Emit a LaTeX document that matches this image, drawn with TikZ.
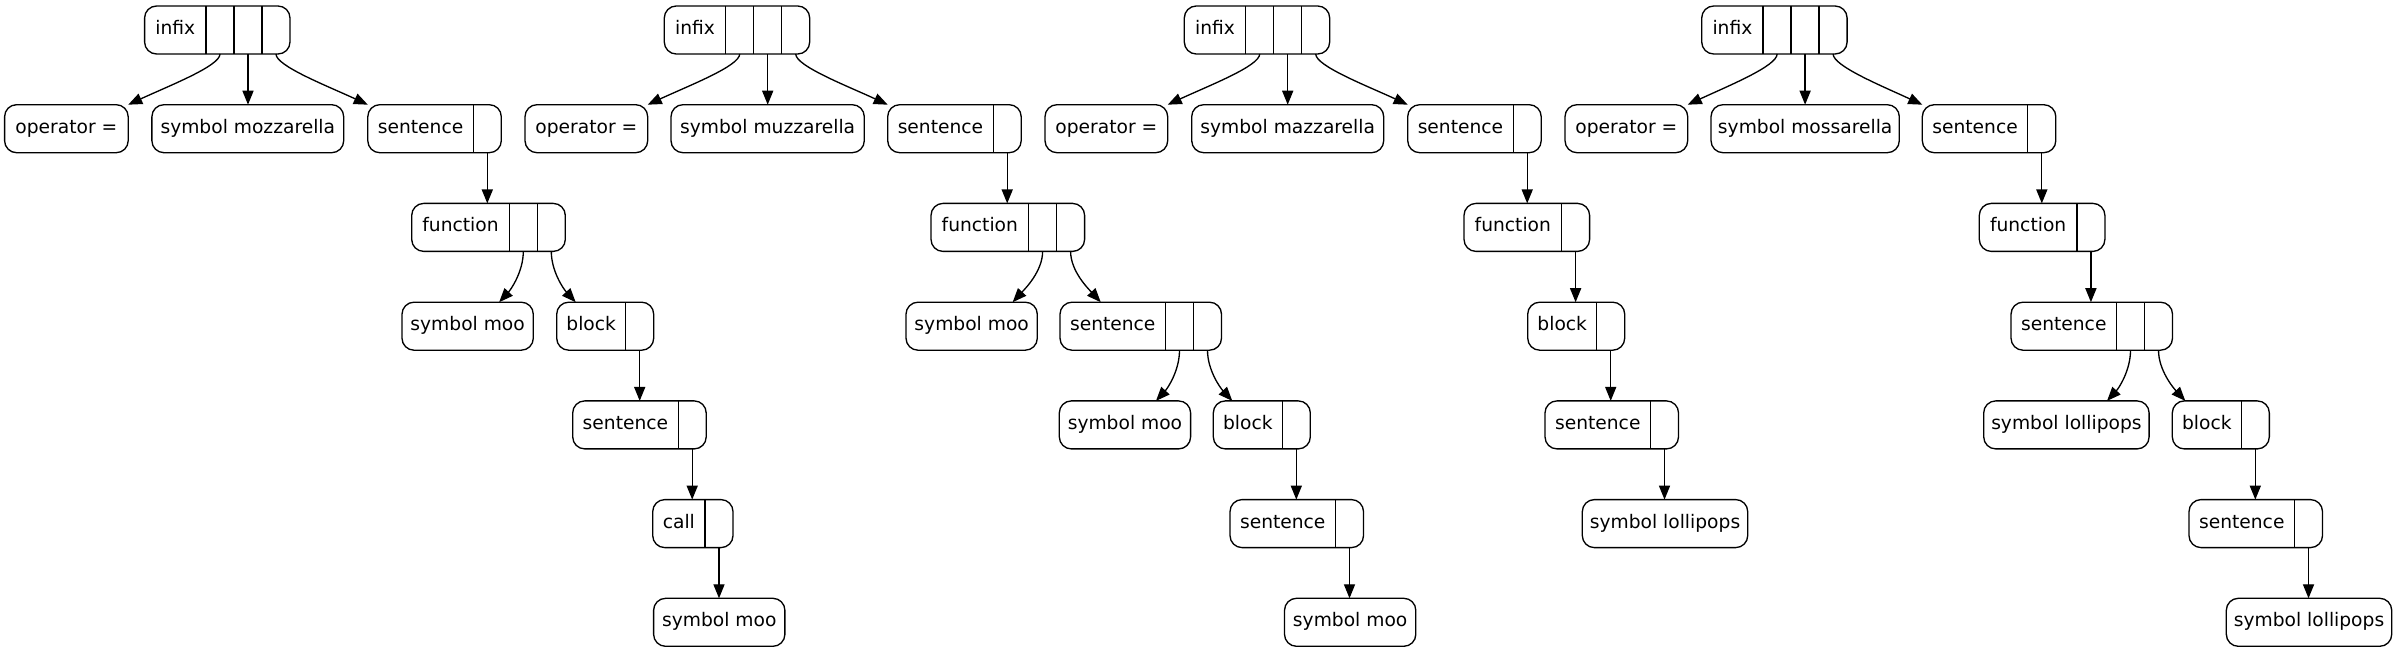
\documentclass[tikz,border=0pt]{standalone}
\usepackage{fontspec}
\setmainfont{DejaVu Sans}
\usetikzlibrary{arrows.meta,calc}

\tikzset{
  rec/.style={draw, line width=1pt, rounded corners=9pt, minimum height=36pt,
    inner sep=0pt, outer sep=0pt, anchor=north west},
  lbl/.style={inner sep=0pt, font=\fontsize{14}{16}\selectfont,
    text height=10.4pt, text depth=3.8pt},
  divline/.style={line width=1pt},
  edge/.style={line width=1pt, -{Triangle[length=10.5pt,width=8.3pt]}},
}

% plain rounded node: name, left x, top y, width (px), text
\newcommand\plainnode[5]{%
  \node[rec, lbl, minimum width=#4*0.75pt] (#1) at (#2,#3) {#5};
}
% record node: name, left x, top y, text cell width (px), number of empty cells, text
\newcommand\recnode[6]{%
  \pgfmathsetmacro\recw{#4+28*#5}%
  \node[rec, minimum width=\recw*0.75pt] (#1) at (#2,#3) {};
  \node[lbl] (#1-t) at ($(#1.north west)+(#4/2,24)$) {#6};
  \foreach \k in {1,...,#5}{
    \draw[divline] ($(#1.north west)+(#4+28*\k-28,0)$) -- ($(#1.south west)+(#4+28*\k-28,0)$);
    \coordinate (#1-p\k) at ($(#1.south west)+(#4+28*\k-14,0)$);
  }
}
\newcommand\edgeIL[2]{\draw[edge] (#1) .. controls +(0,12) and +(41,-19) .. (#2);}
\newcommand\edgeIR[2]{\draw[edge] (#1) .. controls +(0,12) and +(-41,-19) .. (#2);}
\newcommand\edgeL[2]{\draw[edge] (#1) .. controls +(0,20) and +(12,-13) .. (#2);}
\newcommand\edgeR[2]{\draw[edge] (#1) .. controls +(0,20) and +(-12,-13) .. (#2);}
\newcommand\edgeV[2]{\draw[edge] (#1) -- (#1 |- #2.north);}

\begin{document}
\begin{tikzpicture}[x=0.75pt, y=-0.75pt]
\path[fill=white, use as bounding box] (0,0) rectangle (2397,653);

% ---------------- Tree 1 ----------------
\recnode{inf1}{144.6}{6}{61.4}{3}{infix}
\plainnode{op1}{4.6}{104.7}{123.6}{operator =}
\plainnode{sym1}{151.9}{104.7}{191.8}{symbol mozzarella}
\recnode{sen1}{367.8}{104.7}{105.5}{1}{sentence}
\recnode{fun1}{411.7}{203.4}{97.6}{2}{function}
\plainnode{moo1a}{402}{302.2}{131.3}{symbol moo}
\recnode{blk1}{556.7}{302.2}{69}{1}{block}
\recnode{sen1b}{572.7}{400.9}{105.5}{1}{sentence}
\recnode{call1}{652.7}{499.6}{52.3}{1}{call}
\plainnode{moo1b}{653.6}{598.3}{131.3}{symbol moo}

\edgeIL{inf1-p1}{op1.north east}
\edgeV{inf1-p2}{sym1}
\edgeIR{inf1-p3}{sen1.north west}
\edgeV{sen1-p1}{fun1}
\edgeL{fun1-p1}{$(moo1a.north)+(31.5,0)$}
\edgeR{fun1-p2}{$(blk1.north)+(-29.5,0)$}
\edgeV{blk1-p1}{sen1b}
\edgeV{sen1b-p1}{call1}
\edgeV{call1-p1}{moo1b}

% ---------------- Tree 2 ----------------
\recnode{inf2}{664.3}{6}{61.4}{3}{infix}
\plainnode{op2}{525}{104.7}{122.7}{operator =}
\plainnode{sym2}{671}{104.7}{193.3}{symbol muzzarella}
\recnode{sen2}{887.7}{104.7}{105.5}{1}{sentence}
\recnode{fun2}{931}{203.4}{97.6}{2}{function}
\plainnode{moo2a}{906}{302.2}{131.3}{symbol moo}
\recnode{sen2b}{1060}{302.2}{105.5}{2}{sentence}
\plainnode{moo2b}{1059.3}{400.9}{131.3}{symbol moo}
\recnode{blk2}{1213.3}{400.9}{69}{1}{block}
\recnode{sen2c}{1230}{499.6}{105.5}{1}{sentence}
\plainnode{moo2c}{1284.5}{598.3}{131.3}{symbol moo}

\edgeIL{inf2-p1}{op2.north east}
\edgeV{inf2-p2}{sym2}
\edgeIR{inf2-p3}{sen2.north west}
\edgeV{sen2-p1}{fun2}
\edgeL{fun2-p1}{$(moo2a.north)+(41,0)$}
\edgeR{fun2-p2}{$(sen2b.north)+(-40,0)$}
\edgeL{sen2b-p1}{$(moo2b.north)+(31,0)$}
\edgeR{sen2b-p2}{$(blk2.north)+(-29.5,0)$}
\edgeV{blk2-p1}{sen2c}
\edgeV{sen2c-p1}{moo2c}

% ---------------- Tree 3 ----------------
\recnode{inf3}{1184.3}{6}{61.4}{3}{infix}
\plainnode{op3}{1045}{104.7}{122.7}{operator =}
\plainnode{sym3}{1191.7}{104.7}{192}{symbol mazzarella}
\recnode{sen3}{1407.7}{104.7}{105.5}{1}{sentence}
\recnode{fun3}{1464}{203.4}{97.6}{1}{function}
\recnode{blk3}{1527.7}{302.2}{69}{1}{block}
\recnode{sen3b}{1545}{400.9}{105.5}{1}{sentence}
\plainnode{lol3}{1582.3}{499.6}{165.4}{symbol lollipops}

\edgeIL{inf3-p1}{op3.north east}
\edgeV{inf3-p2}{sym3}
\edgeIR{inf3-p3}{sen3.north west}
\edgeV{sen3-p1}{fun3}
\edgeV{fun3-p1}{blk3}
\edgeV{blk3-p1}{sen3b}
\edgeV{sen3b-p1}{lol3}

% ---------------- Tree 4 ----------------
\recnode{inf4}{1701.7}{6}{61.4}{3}{infix}
\plainnode{op4}{1565}{104.7}{122.7}{operator =}
\plainnode{sym4}{1711}{104.7}{188.3}{symbol mossarella}
\recnode{sen4}{1922.3}{104.7}{105.5}{1}{sentence}
\recnode{fun4}{1979.3}{203.4}{97.6}{1}{function}
\recnode{sen4b}{2011}{302.2}{105.5}{2}{sentence}
\plainnode{lol4a}{1983.7}{400.9}{165.4}{symbol lollipops}
\recnode{blk4}{2172.3}{400.9}{69}{1}{block}
\recnode{sen4c}{2189}{499.6}{105.5}{1}{sentence}
\plainnode{lol4b}{2226.3}{598.3}{165.4}{symbol lollipops}

\edgeIL{inf4-p1}{op4.north east}
\edgeV{inf4-p2}{sym4}
\edgeIR{inf4-p3}{sen4.north west}
\edgeV{sen4-p1}{fun4}
\edgeV{fun4-p1}{sen4b}
\edgeL{sen4b-p1}{$(lol4a.north)+(40.6,0)$}
\edgeR{sen4b-p2}{$(blk4.north)+(-35.5,0)$}
\edgeV{blk4-p1}{sen4c}
\edgeV{sen4c-p1}{lol4b}
\end{tikzpicture}
\end{document}
